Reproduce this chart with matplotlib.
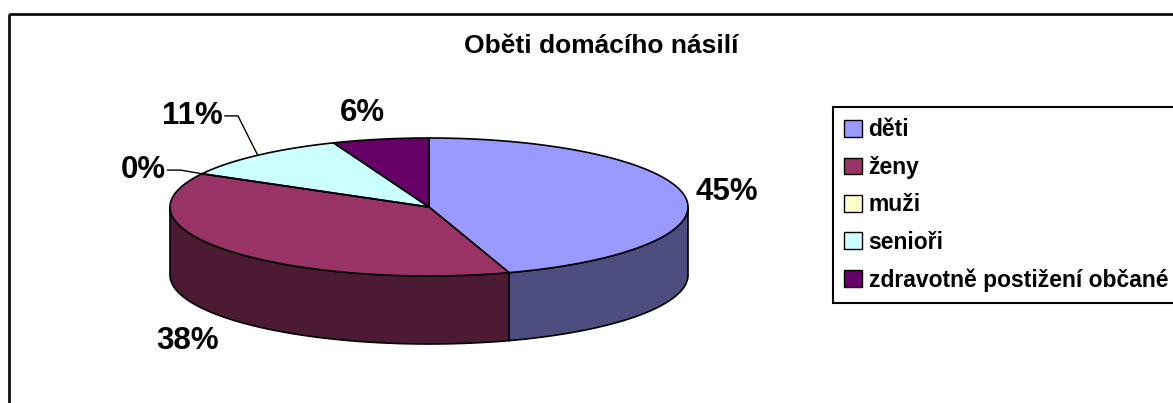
import numpy as np
import matplotlib.pyplot as plt
from matplotlib.patches import Polygon, Patch, Rectangle

categories = ['děti', 'ženy', 'muži', 'senioři', 'zdravotně postižení občané']
shares = [45, 38, 0, 11, 6]
top_colors = ['#9999FF', '#993366', '#FFFFCC', '#CCFFFF', '#660066']
side_colors = ['#4D4D80', '#4D1A33', '#80806A', '#6A8080', '#330033']
title = 'Oběti domácího násilí'

# label placement factors (radial, x and y) per slice
label_kx = [1.165, 1.21, 1.26, 1.38, 1.38]
label_ky = [1.39, 1.50, 1.11, 1.76, 1.39]
leaders = [False, False, True, True, False]

plt.rcParams['font.family'] = ['Liberation Sans', 'DejaVu Sans']

W, H = 1173, 403
fig = plt.figure(figsize=(W / 100, H / 100), dpi=100)
ax = fig.add_axes([0, 0, 1, 1])
ax.set_xlim(0, W)
ax.set_ylim(H, 0)
ax.axis('off')

# chart frame
ax.add_patch(Rectangle((9, 14), W + 20, H + 20, fill=False, edgecolor='#111111', lw=2))

cx, cy, rx, ry, depth = 429, 207, 259, 69, 68


def ell(t):
    t = np.radians(t)
    return cx + rx * np.cos(t), cy - ry * np.sin(t)


fracs = np.array(shares, dtype=float) / sum(shares)
starts = 90 - 360 * np.concatenate([[0], np.cumsum(fracs)[:-1]])
ends = starts - 360 * fracs

# side walls (front half only)
for s, e, col in zip(starts, ends, side_colors):
    for lo, hi in [(-180, 0), (-540, -360)]:
        a, b = max(e, lo), min(s, hi)
        if b - a <= 0:
            continue
        t = np.linspace(b, a, 100)
        x, y = ell(t)
        xs = np.concatenate([x, x[::-1]])
        ys = np.concatenate([y, y[::-1] + depth])
        ax.add_patch(Polygon(np.column_stack([xs, ys]), closed=True,
                             facecolor=col, edgecolor='black', lw=1.2))

# top faces
for s, e, col in zip(starts, ends, top_colors):
    if s - e <= 0:
        x, y = ell(s)
        ax.plot([cx, x], [cy, y], color='black', lw=1.2)
        continue
    t = np.linspace(s, e, 200)
    x, y = ell(t)
    pts = np.column_stack([np.concatenate([[cx], x]), np.concatenate([[cy], y])])
    ax.add_patch(Polygon(pts, closed=True, facecolor=col, edgecolor='black', lw=1.2))

# percentage labels
fig.canvas.draw()
renderer = fig.canvas.get_renderer()
for i, (s, e) in enumerate(zip(starts, ends)):
    mid = (s + e) / 2
    c, sn = np.cos(np.radians(mid)), np.sin(np.radians(mid))
    lx = cx + rx * c * label_kx[i]
    ly = cy - ry * sn * label_ky[i] + (depth if sn < 0 else 0)
    txt = ax.text(lx, ly, f'{shares[i]}%', fontsize=22.5, fontweight='bold',
                  ha='center', va='center')
    if leaders[i]:
        bb = txt.get_window_extent(renderer)
        x0 = bb.x1 + 2
        ex, ey = ell(mid)
        ax.plot([x0, x0 + 13, ex], [ly, ly, ey], color='black', lw=1)

ax.text(601, 46, title, fontsize=19, fontweight='bold', ha='center', va='center')

handles = [Patch(facecolor=c, edgecolor='black', lw=1) for c in top_colors]
fig.legend(handles, categories, loc='upper left',
           bbox_to_anchor=(833 / W, 1 - 107 / H), frameon=True, fancybox=False,
           edgecolor='black', framealpha=1, borderpad=0.5, borderaxespad=0,
           handlelength=0.75, handleheight=0.75, handletextpad=0.3,
           labelspacing=0.63, prop={'size': 16.5, 'weight': 'bold'})
fig.legends[0].get_frame().set_linewidth(1.5)

fig.savefig('out.png', dpi=100)
